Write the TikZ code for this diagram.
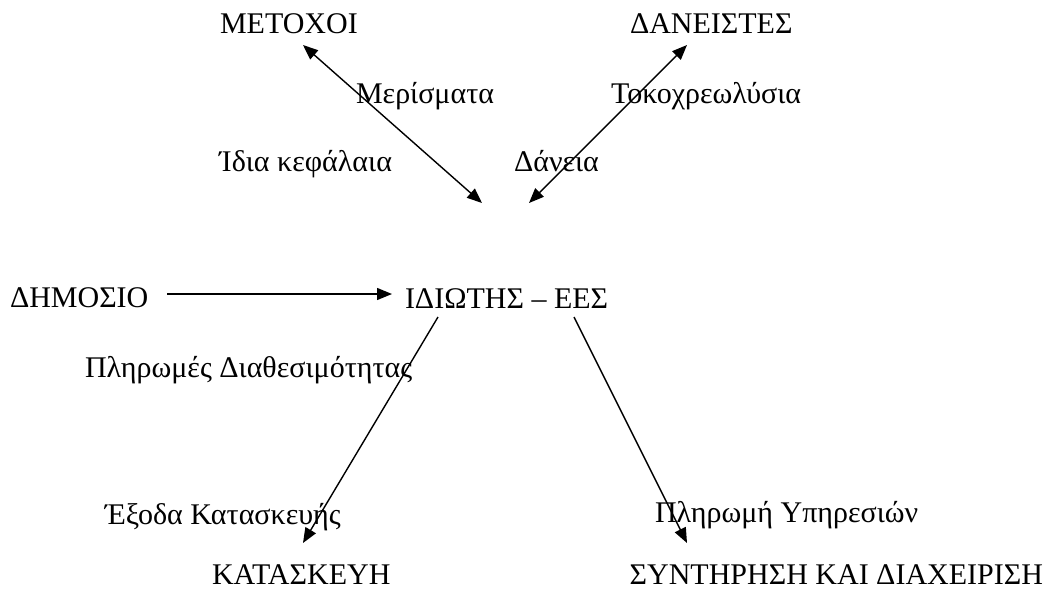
\documentclass[tikz,border=0pt]{standalone}
\usepackage{fontspec}
\setmainfont{Liberation Serif}
\usetikzlibrary{arrows.meta}
\tikzset{
  lbl/.style={inner sep=0pt, outer sep=0pt, anchor=base west, font=\fontsize{30}{36}\selectfont},
  lblr/.style={lbl, anchor=base east},
  conn/.style={line width=1.4pt, -{Triangle[length=15pt,width=12pt]}},
  dconn/.style={line width=1.4pt, {Triangle[length=15pt,width=12pt]}-{Triangle[length=15pt,width=12pt]}}
}
\begin{document}
\begin{tikzpicture}[x=1pt,y=-1pt]
\useasboundingbox (0,0) rectangle (1049,592);
% texts
\node[lbl] (metoxoi) at (220,33) {ΜΕΤΟΧΟΙ};
\node[lbl] (daneistes) at (630,33) {ΔΑΝΕΙΣΤΕΣ};
\node[lbl] (merismata) at (356,103) {Μερίσματα};
\node[lbl] (tokoxr) at (611,103) {Τοκοχρεωλύσια};
\node[lblr] (idia) at (392,171) {Ίδια κεφάλαια};
\node[lbl] (daneia) at (514,171) {Δάνεια};
\node[lbl] (dimosio) at (10,307) {ΔΗΜΟΣΙΟ};
\node[lbl] (idiotis) at (405,308) {ΙΔΙΩΤΗΣ – ΕΕΣ};
\node[lbl] (plirdiath) at (85,377) {Πληρωμές Διαθεσιμότητας};
\node[lbl] (exoda) at (105,524) {Έξοδα Κατασκευής};
\node[lbl] (pliryp) at (655,522) {Πληρωμή Υπηρεσιών};
\node[lbl] (kataskevi) at (212,584) {ΚΑΤΑΣΚΕΥΗ};
\node[lblr] (syntirisi) at (1043,584) {ΣΥΝΤΗΡΗΣΗ ΚΑΙ ΔΙΑΧΕΙΡΙΣΗ};
% connector end points
\coordinate (m1) at (303,45);
\coordinate (m2) at (482,203);
\coordinate (d1) at (687,45);
\coordinate (d2) at (529,203);
\coordinate (p1) at (167,294);
\coordinate (p2) at (392,294);
\coordinate (c1) at (438,317);
\coordinate (c2) at (303,543);
\coordinate (s1) at (574,317);
\coordinate (s2) at (687,543);
% connectors
\draw[dconn] (m1) -- (m2);
\draw[dconn] (d1) -- (d2);
\draw[conn] (p1) -- (p2);
\draw[conn] (c1) -- (c2);
\draw[conn] (s1) -- (s2);
\end{tikzpicture}
\end{document}
